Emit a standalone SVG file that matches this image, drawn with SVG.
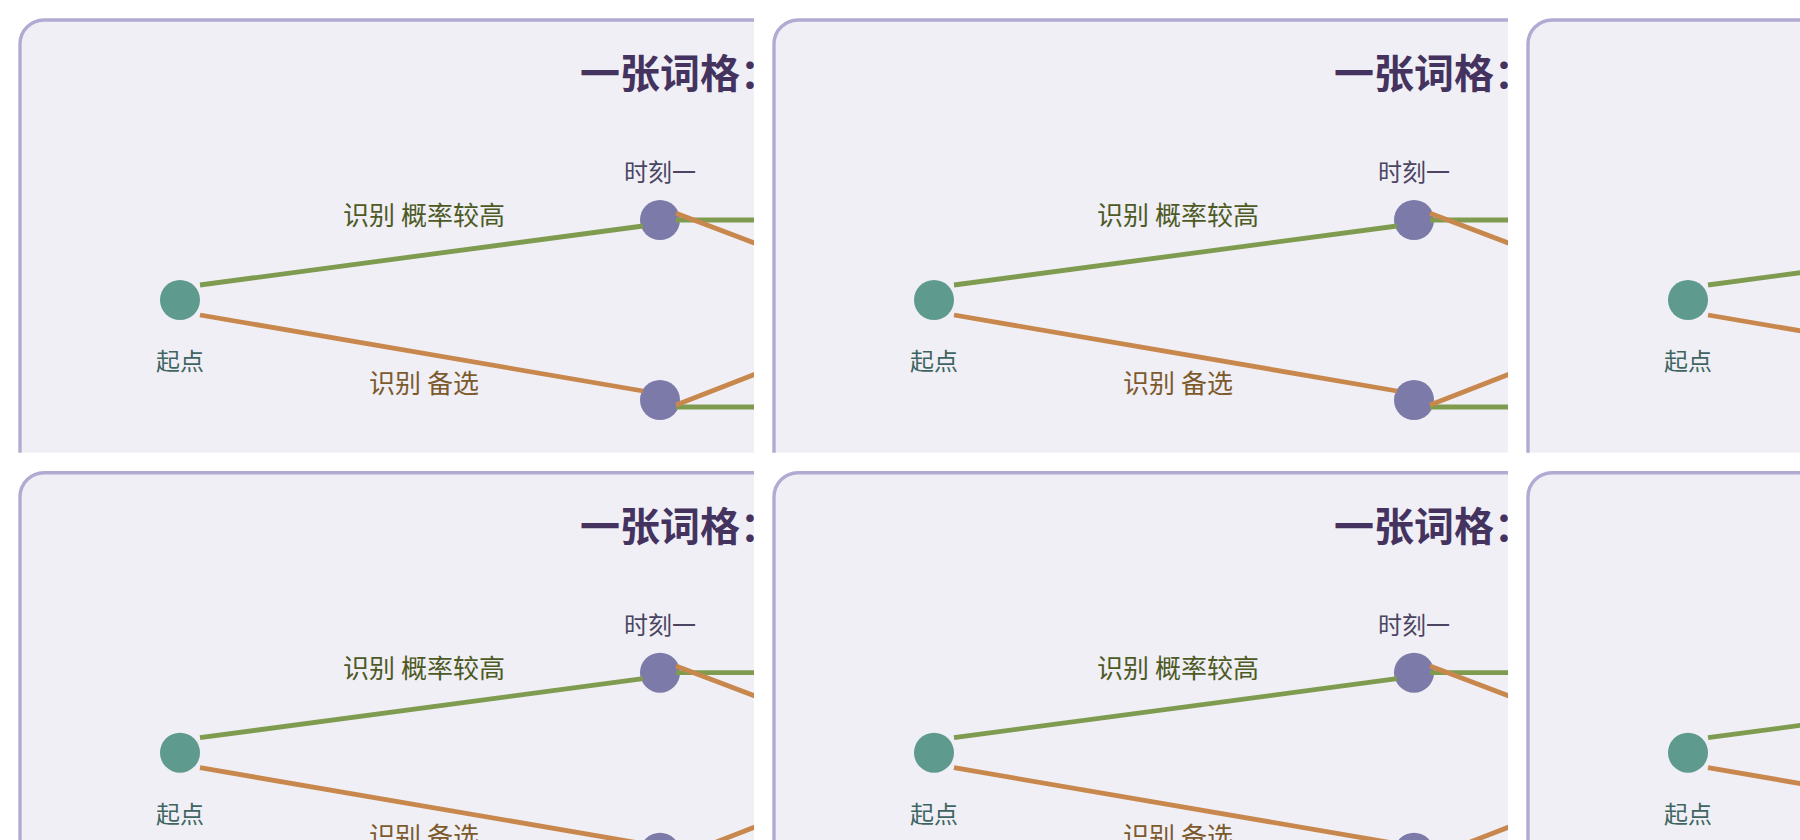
<svg xmlns="http://www.w3.org/2000/svg" xmlns:xlink="http://www.w3.org/1999/xlink" width="1800" height="840" viewBox="0 0 1800 840">
  <style>
    .panel { fill: #f0eff6; stroke: #b3aad3; stroke-width: 3.4; }
    .title { font-family: "Noto Sans CJK SC", "Noto Sans", sans-serif; font-size: 40px; font-weight: bold; fill: #45335f; }
    .nlabel { font-family: "Noto Sans CJK SC", "Noto Sans", sans-serif; font-size: 24px; text-anchor: middle; }
    .elabel { font-family: "Noto Sans CJK SC", "Noto Sans", sans-serif; font-size: 26px; text-anchor: middle; }
    .start { fill: #5f9a8f; }
    .step { fill: #7b7aa8; }
    .best { stroke: #7f9b4f; stroke-width: 4.8; fill: none; }
    .alt { stroke: #c8884d; stroke-width: 4.8; fill: none; }
  </style>
  <defs>
    <clipPath id="tileClip">
      <rect x="18" y="18" width="736" height="434.7"/>
    </clipPath>
    <g id="lattice">
      <rect class="panel" x="20" y="20" width="1500" height="900" rx="24" ry="24"/>
      <text class="title" x="580" y="88">一张词格：</text>
      <g id="node-start">
        <circle class="start" cx="180" cy="300" r="20"/>
        <text class="nlabel" x="180" y="370" fill="#3f6562">起点</text>
      </g>
      <g id="node-t1-top">
        <circle class="step" cx="660" cy="220" r="20"/>
        <text class="nlabel" x="660" y="181" fill="#4b4562">时刻一</text>
      </g>
      <g id="node-t1-bottom">
        <circle class="step" cx="660" cy="400" r="20"/>
      </g>
      <g id="connectors">
        <line class="best" x1="200" y1="285" x2="643" y2="226"/>
        <line class="alt" x1="200" y1="315" x2="643" y2="391"/>
        <line class="best" x1="676" y1="220" x2="820" y2="220"/>
        <line class="best" x1="676" y1="407" x2="820" y2="407"/>
        <line class="alt" x1="676" y1="213.3" x2="820" y2="268"/>
        <line class="alt" x1="676" y1="405" x2="820" y2="349"/>
        <text class="elabel" x="424" y="225" fill="#4d5a24">识别 概率较高</text>
        <text class="elabel" x="424" y="393" fill="#7d5a2c">识别 备选</text>
      </g>
    </g>
  </defs>
  <rect x="0" y="0" width="1800" height="840" fill="#ffffff"/>
  <g id="tile-1" clip-path="url(#tileClip)"><use xlink:href="#lattice"/></g>
  <g id="tile-2" transform="translate(754,0)"><g clip-path="url(#tileClip)"><use xlink:href="#lattice"/></g></g>
  <g id="tile-3" transform="translate(1508,0)"><g clip-path="url(#tileClip)"><use xlink:href="#lattice"/></g></g>
  <g id="tile-4" transform="translate(0,452.7)"><g clip-path="url(#tileClip)"><use xlink:href="#lattice"/></g></g>
  <g id="tile-5" transform="translate(754,452.7)"><g clip-path="url(#tileClip)"><use xlink:href="#lattice"/></g></g>
  <g id="tile-6" transform="translate(1508,452.7)"><g clip-path="url(#tileClip)"><use xlink:href="#lattice"/></g></g>
</svg>
